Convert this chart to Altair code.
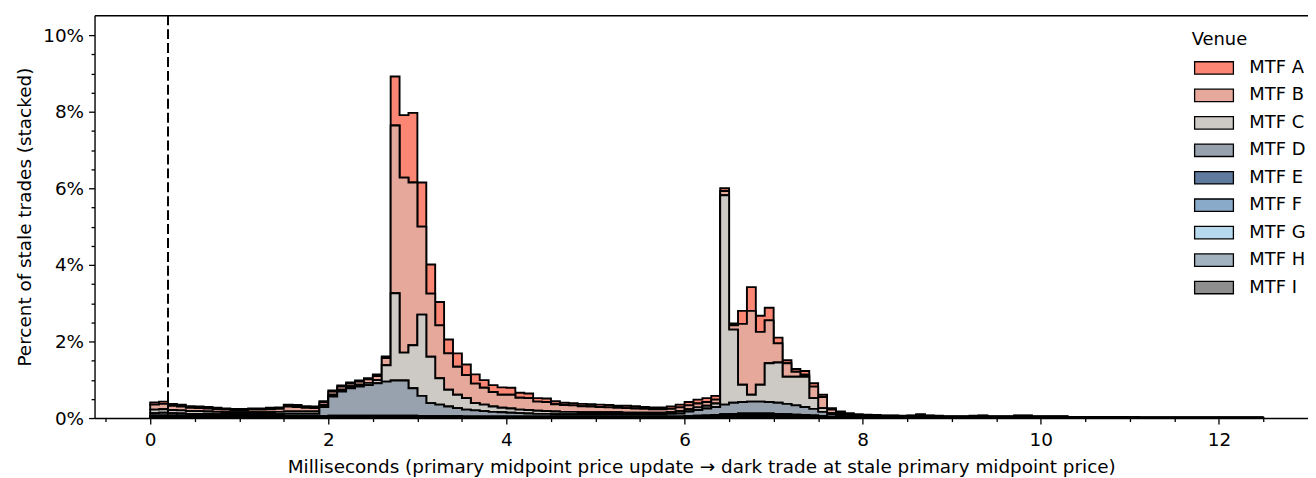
import altair as alt
import pandas as pd

venues = ["MTF A", "MTF B", "MTF C", "MTF D", "MTF E", "MTF F", "MTF G", "MTF H", "MTF I"]
colors = ["#FB8674", "#E6A89B", "#CDC9C4", "#98A2AF", "#5F7A9C", "#8AAAC9", "#B6D9EE", "#A2B3BF", "#8E8E8E"]

# bin width 0.1 ms, 125 bins from 0 to 12.5 ms; values in percent
bin_width = 0.1
n_bins = 125

mtf_a = [0.06, 0.06, 0.05, 0.05, 0.04, 0.04, 0.04, 0.04, 0.03, 0.03,
         0.03, 0.03, 0.03, 0.04, 0.04, 0.05, 0.05, 0.04, 0.04, 0.03,
         0.03, 0.03, 0.03, 0.03, 0.03, 0.04, 0.04, 1.28, 1.63, 1.82,
         1.15, 0.76, 0.61, 0.36, 0.35, 0.28, 0.24, 0.20, 0.18, 0.19,
         0.18, 0.13, 0.12, 0.09, 0.09, 0.08, 0.06, 0.06, 0.06, 0.06,
         0.06, 0.06, 0.05, 0.06, 0.06, 0.05, 0.05, 0.05, 0.06, 0.07,
         0.09, 0.10, 0.10, 0.10, 0.07, 0.05, 0.34, 0.62, 0.42, 0.33,
         0.15, 0.08, 0.07, 0.10, 0.09, 0.06, 0.04, 0.02, 0.02, 0.02,
         0.02, 0.01, 0.01, 0.01, 0.01, 0.01, 0.02, 0.01, 0.01, 0.01,
         0.01, 0.01, 0.01, 0.01, 0.01, 0.01, 0.01, 0.01, 0.01, 0.01,
         0.01, 0.01, 0.01, 0.01, 0.01, 0.00, 0.00, 0.00, 0.00, 0.00,
         0.00, 0.00, 0.00, 0.00, 0.00, 0.00, 0.00, 0.00, 0.00, 0.00,
         0.00, 0.00, 0.00, 0.00, 0.00]

mtf_b = [0.13, 0.14, 0.11, 0.10, 0.09, 0.08, 0.08, 0.07, 0.07, 0.06,
         0.06, 0.07, 0.07, 0.08, 0.08, 0.13, 0.12, 0.10, 0.09, 0.07,
         0.08, 0.08, 0.07, 0.08, 0.09, 0.11, 0.19, 4.38, 4.57, 4.25,
         2.30, 1.65, 1.38, 0.95, 0.73, 0.60, 0.51, 0.44, 0.38, 0.34,
         0.36, 0.31, 0.31, 0.24, 0.24, 0.19, 0.18, 0.17, 0.16, 0.15,
         0.14, 0.13, 0.12, 0.12, 0.11, 0.10, 0.09, 0.09, 0.09, 0.10,
         0.10, 0.10, 0.10, 0.10, 0.11, 0.11, 1.59, 2.19, 1.38, 1.12,
         0.50, 0.35, 0.13, 0.05, 0.30, 0.29, 0.09, 0.05, 0.03, 0.02,
         0.02, 0.02, 0.02, 0.02, 0.01, 0.02, 0.03, 0.02, 0.01, 0.01,
         0.01, 0.01, 0.01, 0.02, 0.01, 0.01, 0.01, 0.02, 0.02, 0.01,
         0.01, 0.01, 0.01, 0.01, 0.01, 0.01, 0.01, 0.01, 0.01, 0.01,
         0.01, 0.00, 0.00, 0.00, 0.00, 0.00, 0.00, 0.00, 0.00, 0.00,
         0.00, 0.00, 0.00, 0.00, 0.00]

mtf_c = [0.09, 0.09, 0.08, 0.08, 0.07, 0.07, 0.06, 0.06, 0.05, 0.05,
         0.05, 0.05, 0.05, 0.05, 0.06, 0.06, 0.06, 0.06, 0.06, 0.05,
         0.05, 0.05, 0.05, 0.05, 0.06, 0.08, 0.43, 2.28, 0.73, 1.12,
         2.12, 1.21, 0.69, 0.44, 0.35, 0.30, 0.19, 0.17, 0.14, 0.12,
         0.11, 0.09, 0.09, 0.08, 0.07, 0.07, 0.06, 0.06, 0.05, 0.05,
         0.05, 0.05, 0.05, 0.04, 0.04, 0.04, 0.04, 0.04, 0.04, 0.06,
         0.06, 0.07, 0.07, 0.09, 5.47, 1.91, 0.45, 0.18, 0.44, 1.01,
         1.05, 0.71, 0.75, 0.79, 0.28, 0.10, 0.04, 0.03, 0.03, 0.02,
         0.02, 0.02, 0.01, 0.01, 0.01, 0.01, 0.02, 0.01, 0.01, 0.01,
         0.01, 0.01, 0.01, 0.01, 0.01, 0.01, 0.01, 0.01, 0.01, 0.01,
         0.01, 0.01, 0.01, 0.00, 0.00, 0.00, 0.00, 0.00, 0.00, 0.00,
         0.00, 0.00, 0.00, 0.00, 0.00, 0.00, 0.00, 0.00, 0.00, 0.00,
         0.00, 0.00, 0.00, 0.00, 0.00]

mtf_d = [0.06, 0.07, 0.06, 0.06, 0.05, 0.05, 0.05, 0.05, 0.05, 0.05,
         0.05, 0.05, 0.05, 0.05, 0.05, 0.06, 0.06, 0.06, 0.06, 0.24,
         0.50, 0.63, 0.72, 0.76, 0.80, 0.85, 0.89, 0.92, 0.92, 0.72,
         0.53, 0.34, 0.30, 0.25, 0.21, 0.18, 0.16, 0.14, 0.12, 0.11,
         0.10, 0.09, 0.08, 0.07, 0.07, 0.06, 0.06, 0.06, 0.06, 0.06,
         0.06, 0.06, 0.06, 0.06, 0.06, 0.06, 0.06, 0.06, 0.07, 0.08,
         0.12, 0.15, 0.18, 0.21, 0.25, 0.29, 0.30, 0.31, 0.31, 0.30,
         0.29, 0.27, 0.24, 0.21, 0.17, 0.11, 0.06, 0.04, 0.03, 0.02,
         0.02, 0.02, 0.02, 0.02, 0.02, 0.02, 0.02, 0.02, 0.02, 0.01,
         0.01, 0.01, 0.02, 0.02, 0.01, 0.01, 0.01, 0.02, 0.02, 0.01,
         0.01, 0.01, 0.01, 0.01, 0.01, 0.00, 0.00, 0.00, 0.00, 0.00,
         0.00, 0.00, 0.00, 0.00, 0.00, 0.00, 0.00, 0.00, 0.00, 0.00,
         0.00, 0.00, 0.00, 0.00, 0.00]

mtf_e = [0.02, 0.02, 0.02, 0.02, 0.02, 0.02, 0.02, 0.01, 0.01, 0.01,
         0.01, 0.01, 0.01, 0.01, 0.01, 0.01, 0.01, 0.01, 0.01, 0.01,
         0.02, 0.02, 0.02, 0.02, 0.02, 0.02, 0.02, 0.02, 0.02, 0.02,
         0.01, 0.01, 0.01, 0.01, 0.01, 0.01, 0.01, 0.01, 0.01, 0.01,
         0.01, 0.01, 0.01, 0.01, 0.01, 0.01, 0.01, 0.01, 0.01, 0.01,
         0.01, 0.01, 0.01, 0.01, 0.01, 0.01, 0.01, 0.01, 0.01, 0.01,
         0.01, 0.02, 0.02, 0.03, 0.03, 0.04, 0.04, 0.04, 0.04, 0.04,
         0.04, 0.03, 0.03, 0.03, 0.02, 0.01, 0.01, 0.01, 0.01, 0.01,
         0.01, 0.01, 0.01, 0.01, 0.01, 0.01, 0.01, 0.01, 0.01, 0.01,
         0.01, 0.01, 0.01, 0.01, 0.01, 0.01, 0.01, 0.01, 0.01, 0.01,
         0.01, 0.01, 0.01, 0.00, 0.00, 0.00, 0.00, 0.00, 0.00, 0.00,
         0.00, 0.00, 0.00, 0.00, 0.00, 0.00, 0.00, 0.00, 0.00, 0.00,
         0.00, 0.00, 0.00, 0.00, 0.00]

mtf_f = [0.01, 0.01, 0.01, 0.01, 0.01, 0.01, 0.01, 0.01, 0.01, 0.01,
         0.01, 0.01, 0.01, 0.01, 0.01, 0.01, 0.01, 0.01, 0.01, 0.01,
         0.01, 0.01, 0.01, 0.01, 0.01, 0.01, 0.01, 0.01, 0.01, 0.01,
         0.01, 0.01, 0.01, 0.01, 0.01, 0.01, 0.01, 0.01, 0.01, 0.01,
         0.01, 0.01, 0.01, 0.01, 0.01, 0.01, 0.01, 0.01, 0.01, 0.01,
         0.01, 0.01, 0.01, 0.01, 0.01, 0.01, 0.01, 0.01, 0.01, 0.01,
         0.01, 0.01, 0.02, 0.02, 0.03, 0.03, 0.04, 0.04, 0.04, 0.04,
         0.03, 0.03, 0.02, 0.02, 0.02, 0.01, 0.01, 0.01, 0.00, 0.00,
         0.00, 0.00, 0.00, 0.00, 0.00, 0.00, 0.00, 0.00, 0.00, 0.00,
         0.00, 0.00, 0.00, 0.00, 0.00, 0.00, 0.00, 0.00, 0.00, 0.00,
         0.00, 0.00, 0.00, 0.00, 0.00, 0.00, 0.00, 0.00, 0.00, 0.00,
         0.00, 0.00, 0.00, 0.00, 0.00, 0.00, 0.00, 0.00, 0.00, 0.00,
         0.00, 0.00, 0.00, 0.00, 0.00]

mtf_g = [0.01, 0.01, 0.01, 0.01, 0.01, 0.01, 0.01, 0.01, 0.01, 0.01,
         0.01, 0.01, 0.01, 0.01, 0.01, 0.01, 0.01, 0.01, 0.01, 0.01,
         0.01, 0.01, 0.01, 0.01, 0.01, 0.01, 0.01, 0.01, 0.01, 0.01,
         0.01, 0.01, 0.01, 0.01, 0.01, 0.00, 0.00, 0.00, 0.00, 0.00,
         0.00, 0.00, 0.00, 0.00, 0.00, 0.00, 0.00, 0.00, 0.00, 0.00,
         0.00, 0.00, 0.00, 0.00, 0.00, 0.00, 0.00, 0.00, 0.00, 0.00,
         0.01, 0.01, 0.01, 0.01, 0.01, 0.01, 0.01, 0.01, 0.01, 0.01,
         0.01, 0.01, 0.01, 0.01, 0.01, 0.01, 0.00, 0.00, 0.00, 0.00,
         0.00, 0.00, 0.00, 0.00, 0.00, 0.00, 0.00, 0.00, 0.00, 0.00,
         0.00, 0.00, 0.00, 0.00, 0.00, 0.00, 0.00, 0.00, 0.00, 0.00,
         0.00, 0.00, 0.00, 0.00, 0.00, 0.00, 0.00, 0.00, 0.00, 0.00,
         0.00, 0.00, 0.00, 0.00, 0.00, 0.00, 0.00, 0.00, 0.00, 0.00,
         0.00, 0.00, 0.00, 0.00, 0.00]

mtf_h = [0.02, 0.02, 0.02, 0.01, 0.01, 0.01, 0.01, 0.01, 0.01, 0.01,
         0.01, 0.01, 0.01, 0.01, 0.01, 0.01, 0.01, 0.01, 0.01, 0.01,
         0.01, 0.01, 0.01, 0.01, 0.01, 0.01, 0.01, 0.01, 0.01, 0.01,
         0.01, 0.01, 0.01, 0.01, 0.01, 0.01, 0.01, 0.01, 0.01, 0.01,
         0.01, 0.01, 0.01, 0.01, 0.01, 0.01, 0.01, 0.01, 0.01, 0.01,
         0.01, 0.01, 0.01, 0.01, 0.01, 0.01, 0.01, 0.01, 0.01, 0.01,
         0.01, 0.01, 0.01, 0.01, 0.02, 0.02, 0.02, 0.02, 0.02, 0.02,
         0.02, 0.02, 0.02, 0.01, 0.01, 0.01, 0.01, 0.01, 0.01, 0.01,
         0.00, 0.00, 0.00, 0.00, 0.00, 0.00, 0.00, 0.00, 0.00, 0.00,
         0.00, 0.00, 0.00, 0.00, 0.00, 0.00, 0.00, 0.00, 0.00, 0.00,
         0.00, 0.00, 0.00, 0.00, 0.00, 0.01, 0.01, 0.01, 0.01, 0.01,
         0.01, 0.01, 0.01, 0.01, 0.01, 0.01, 0.01, 0.01, 0.01, 0.01,
         0.01, 0.01, 0.01, 0.01, 0.01]

mtf_i = [0.01, 0.01, 0.01, 0.01, 0.01, 0.01, 0.01, 0.01, 0.01, 0.01,
         0.01, 0.01, 0.01, 0.01, 0.01, 0.01, 0.01, 0.01, 0.01, 0.01,
         0.01, 0.01, 0.01, 0.01, 0.01, 0.01, 0.01, 0.01, 0.01, 0.01,
         0.01, 0.01, 0.01, 0.01, 0.01, 0.01, 0.01, 0.01, 0.01, 0.01,
         0.01, 0.01, 0.01, 0.01, 0.01, 0.01, 0.01, 0.01, 0.01, 0.01,
         0.01, 0.01, 0.01, 0.01, 0.01, 0.01, 0.01, 0.01, 0.01, 0.01,
         0.01, 0.01, 0.01, 0.01, 0.01, 0.01, 0.01, 0.01, 0.01, 0.01,
         0.01, 0.01, 0.01, 0.01, 0.01, 0.01, 0.00, 0.00, 0.00, 0.00,
         0.00, 0.00, 0.00, 0.00, 0.00, 0.00, 0.00, 0.00, 0.00, 0.00,
         0.00, 0.00, 0.00, 0.00, 0.00, 0.00, 0.00, 0.00, 0.00, 0.00,
         0.00, 0.00, 0.00, 0.00, 0.00, 0.00, 0.00, 0.00, 0.00, 0.00,
         0.00, 0.00, 0.00, 0.00, 0.00, 0.00, 0.00, 0.00, 0.00, 0.00,
         0.00, 0.00, 0.00, 0.00, 0.00]

series = [mtf_a, mtf_b, mtf_c, mtf_d, mtf_e, mtf_f, mtf_g, mtf_h, mtf_i]

x_major = [0, 2, 4, 6, 8, 10, 12]
x_minor = [-0.5, 0.5, 1, 1.5, 2.5, 3, 3.5, 4.5, 5, 5.5, 6.5, 7, 7.5, 8.5, 9, 9.5,
           10.5, 11, 11.5, 12.5]
y_major = [0, 2, 4, 6, 8, 10]
y_minor = [0.5, 1, 1.5, 2.5, 3, 3.5, 4.5, 5, 5.5, 6.5, 7, 7.5, 8.5, 9, 9.5]
stale_cutoff = [0.2]

rows = []
for k, (venue, vals) in enumerate(zip(venues, series)):
    order = len(venues) - 1 - k
    for i in range(n_bins):
        rows.append({"edge": round(i * bin_width, 1), "venue": venue, "value": vals[i], "order": order})
    rows.append({"edge": round(n_bins * bin_width, 1), "venue": venue, "value": vals[-1], "order": order})
df = pd.DataFrame(rows)

FONT = "DejaVu Sans"
AXIS_FS = 18.5
LEG_FS = 18
x_scale = alt.Scale(domain=[-0.625, 13.0], nice=False, zero=False)
y_scale = alt.Scale(domain=[0, 10.52], nice=False, zero=False)

area = alt.Chart(df).mark_area(
    interpolate="step-after", stroke="black", strokeWidth=1.9, strokeJoin="miter", opacity=1
).encode(
    x=alt.X("edge:Q", scale=x_scale,
            axis=alt.Axis(values=x_major, format="d", orient="bottom",
                          title="Milliseconds (primary midpoint price update \u2192 dark trade at stale primary midpoint price)",
                          tickSize=6, labelPadding=7, titlePadding=8)),
    y=alt.Y("value:Q", stack="zero", scale=y_scale,
            axis=alt.Axis(values=y_major, labelExpr="datum.value + '%'", orient="left",
                          title="Percent of stale trades (stacked)",
                          tickSize=6, labelPadding=5, titlePadding=8)),
    color=alt.Color("venue:N", scale=alt.Scale(domain=venues, range=colors),
                    legend=alt.Legend(
                        title="Venue", orient="none", legendX=1103, legendY=16,
                        symbolType="M-3,-0.96H3V0.96H-3Z", symbolSize=169,
                        symbolStrokeColor="black", symbolStrokeWidth=1.3, symbolOpacity=1,
                        symbolOffset=13.5, labelOffset=26.5, rowPadding=9.6,
                        titlePadding=10, padding=0,
                        labelFont=FONT, titleFont=FONT, labelFontSize=LEG_FS, titleFontSize=LEG_FS,
                        titleFontWeight="normal", labelColor="black", titleColor="black")),
    order=alt.Order("order:Q", sort="ascending"),
)

minor = alt.Chart(df).mark_point(opacity=0).encode(
    x=alt.X("edge:Q", scale=x_scale,
            axis=alt.Axis(values=x_minor, labels=False, domain=False, tickSize=3.5,
                          title=None, orient="bottom")),
    y=alt.Y("value:Q", scale=y_scale,
            axis=alt.Axis(values=y_minor, labels=False, domain=False, tickSize=3.5,
                          title=None, orient="left")),
)

rule = alt.Chart(pd.DataFrame({"x": stale_cutoff})).mark_rule(
    strokeDash=[10, 4], color="black", strokeWidth=2
).encode(
    x=alt.X("x:Q", scale=x_scale,
            axis=alt.Axis(orient="top", labels=False, ticks=False, title=None, domain=True)),
)

chart = alt.layer(area, minor, rule).resolve_scale(
    x="independent", y="independent"
).properties(
    width=1220, height=405,
    padding={"left": 7, "top": 5, "right": 0, "bottom": 0},
    background="white",
).configure_view(
    stroke=None
).configure_axis(
    labelFont=FONT, titleFont=FONT, labelFontSize=AXIS_FS, titleFontSize=AXIS_FS,
    titleFontWeight="normal", labelColor="black", titleColor="black",
    tickColor="black", domainColor="black", domainWidth=1.4, tickWidth=1.3, grid=False,
)

chart.save("out.html", embed_options={"renderer": "svg", "actions": False})
